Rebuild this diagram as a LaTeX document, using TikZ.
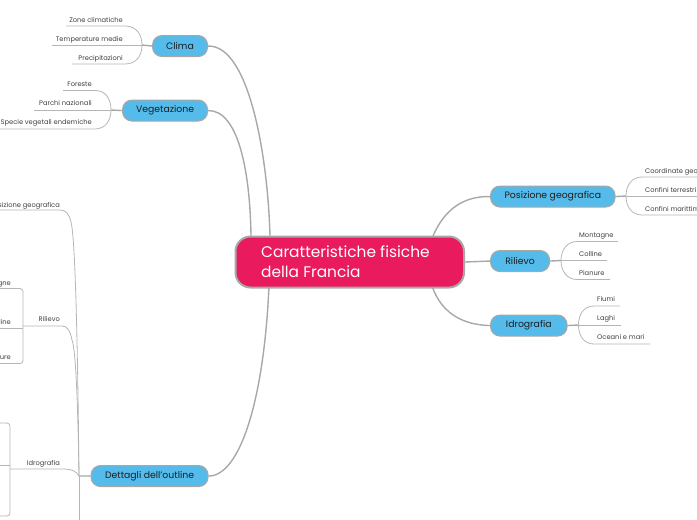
\documentclass[tikz,border=0pt]{standalone}
\usepackage{fontspec}
\setmainfont{Poppins}
\definecolor{blu}{HTML}{55BBEB}
\definecolor{pink}{HTML}{E91B5E}
\definecolor{edge}{HTML}{A8A8A8}
\definecolor{ink}{HTML}{1E1E1E}
\tikzset{
 x=1pt,y=-1pt,
 conn/.style={draw=edge,line width=1.4pt},
 thin conn/.style={draw=edge!85,line width=0.8pt},
 topic/.style={draw=edge,line width=1.1pt,fill=blu,rounded corners=9.5pt,inner sep=0pt,text=ink,font=\fontsize{9.3}{11}\selectfont,anchor=north west},
 leaf/.style={inner sep=0pt,text=ink!85,font=\fontsize{6.7}{8}\selectfont,anchor=base},
 leafR/.style={leaf,anchor=base west},
 leafL/.style={leaf,anchor=base east},
 rootbox/.style={draw=edge,line width=2pt,fill=pink,rounded corners=15pt,minimum width=228.5pt,minimum height=51pt,inner sep=0pt,anchor=north west},
 roottext/.style={anchor=base west,inner sep=0pt,text=white,font=\fontsize{15.4}{20}\selectfont},
}
\begin{document}
\begin{tikzpicture}
\useasboundingbox (0,0) rectangle (697,520);
\coordinate (rootClima) at (270,236);
\coordinate (rootVeg) at (251,236);
\coordinate (rootDett) at (269,286);
\coordinate (rootPos) at (433,236);
\coordinate (rootIdro) at (432,286);
% topics
\node[topic,minimum width=55pt,minimum height=21pt] (clima) at (152,35) {Clima};
\node[topic,minimum width=85pt,minimum height=21pt] (veg) at (122,99.5) {Vegetazione};
\node[topic,minimum width=117pt,minimum height=21pt] (dett) at (90.5,465) {Dettagli dell'outline};
\node[topic,minimum width=124.5pt,minimum height=21pt] (pos) at (490,185.5) {Posizione geografica};
\node[topic,minimum width=59pt,minimum height=21pt] (ril) at (490,250) {Rilievo};
\node[topic,minimum width=76.5pt,minimum height=21pt] (idro) at (490,314.5) {Idrografia};
% connectors from the root
\draw[conn] (clima.east) .. controls (250,45) and (268,160) .. (rootClima);
\draw[conn] (veg.east) .. controls (238,110) and (250,170) .. (rootVeg);
\draw[conn] (dett.east) .. controls (240,476) and (264,400) .. (rootDett);
\draw[conn] (pos.west) .. controls (465,196) and (445,208) .. (rootPos);
\draw[conn] (idro.west) .. controls (465,325) and (442,315) .. (rootIdro);
% root
\node[rootbox] (root) at (234.5,235.5) {};
\node[roottext] (roota) at (261,257.5) {Caratteristiche fisiche};
\node[roottext] (rootb) at (261,277.5) {della Francia};
\draw[conn] (root.east) -- (ril.west);
% Clima children
\coordinate (cb) at (142,45);
\draw[conn] (clima.west) -- (cb);
\draw[thin conn] (66,26) -- (125,26) .. controls (136,26) and (142,34) .. (cb) .. controls (142,56) and (136,64) .. (125,64) -- (72,64);
\draw[thin conn] (cb) -- (52,45);
\node[leafL] (c1) at (123,22) {Zone climatiche};
\node[leafL] (c2) at (123,41) {Temperature medie};
\node[leafL] (c3) at (123,60) {Precipitazioni};
% Vegetazione children
\coordinate (vb) at (111,110);
\draw[conn] (veg.west) -- (vb);
\draw[thin conn] (63,90.5) -- (95,90.5) .. controls (105,90.5) and (111,98) .. (vb) .. controls (111,121) and (105,129) .. (95,129) -- (0,129);
\draw[thin conn] (vb) -- (34,110);
\node[leafL] (v1) at (92,86) {Foreste};
\node[leafL] (v2) at (92,105) {Parchi nazionali};
\node[leafL] (v3) at (92,124) {Specie vegetali endemiche};
% Posizione children
\coordinate (pb) at (626,196);
\draw[conn] (pos.east) -- (pb);
\draw[thin conn] (697,177) -- (642,177) .. controls (632,177) and (626,185) .. (pb) .. controls (626,207) and (632,215) .. (642,215) -- (697,215);
\draw[thin conn] (pb) -- (697,196);
\node[leafR] (p1) at (645,173) {Coordinate geografiche};
\node[leafR] (p2) at (645,192) {Confini terrestri};
\node[leafR] (p3) at (645,211) {Confini marittimi};
% Rilievo children
\coordinate (rb) at (561,260.5);
\draw[conn] (ril.east) -- (rb);
\draw[thin conn] (618,241.5) -- (577,241.5) .. controls (567,241.5) and (561,250) .. (rb) .. controls (561,271) and (567,279.5) .. (577,279.5) -- (610,279.5);
\draw[thin conn] (rb) -- (607,260.5);
\node[leafR] (r1) at (579,237) {Montagne};
\node[leafR] (r2) at (579,256) {Colline};
\node[leafR] (r3) at (579,275) {Pianure};
% Idrografia children
\coordinate (ib) at (578.5,325);
\draw[conn] (idro.east) -- (ib);
\draw[thin conn] (620,306) -- (594,306) .. controls (584,306) and (578.5,314) .. (ib) .. controls (578.5,336) and (584,344) .. (594,344) -- (650,344);
\draw[thin conn] (ib) -- (621,325);
\node[leafR] (i1) at (597,301) {Fiumi};
\node[leafR] (i2) at (597,320) {Laghi};
\node[leafR] (i3) at (597,339) {Oceani e mari};
% Dettagli children
\coordinate (db) at (79,476);
\draw[conn] (dett.west) -- (db);
\draw[thin conn] (db) -- (79,520);
\draw[thin conn] (db) .. controls (78,380) and (76,240) .. (71,222) .. controls (69,214) and (66,210) .. (60,210) -- (-10,210);
\draw[thin conn] (db) .. controls (78,410) and (76,350) .. (72,340) .. controls (70,330) and (67,326) .. (62,326) -- (23,326);
\draw[thin conn] (db) .. controls (76,471) and (72,469) .. (62,469) -- (10,469);
\node[leafL] (d1) at (60,207) {Posizione geografica};
\node[leafL] (d2) at (60,321) {Rilievo};
\node[leafL] (d3) at (60,465.5) {Idrografia};
% Rilievo (left) bracket
\draw[thin conn,rounded corners=3pt] (-5,288.5) -- (23,288.5) -- (23,363.5) -- (-5,363.5);
\draw[thin conn] (23,328) -- (-5,328);
\node[leafL] (l1) at (11,285) {Montagne};
\node[leafL] (l2) at (11,324) {Colline};
\node[leafL] (l3) at (11,359) {Pianure};
% Idrografia (left) bracket
\draw[thin conn,rounded corners=3pt] (-5,423) -- (10,423) -- (10,516) -- (-5,516);
\draw[thin conn] (10,465) -- (-5,465);
\end{tikzpicture}
\end{document}
